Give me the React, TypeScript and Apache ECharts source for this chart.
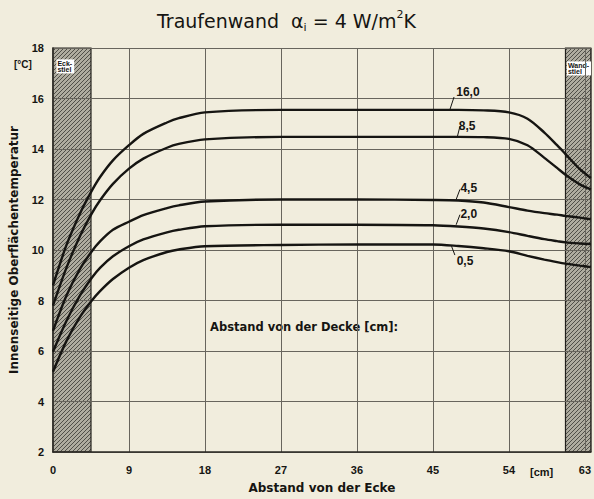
import React, { useEffect, useRef } from "react";
import * as echarts from "echarts";

// Abstand von der Ecke [cm]
const distances = [0, 1.6, 3.2, 4.6, 5.6, 7.1, 9, 10.7, 13.5, 14.9, 18, 27, 36, 45, 48, 51, 54, 56.2, 58.2, 59.7, 60.7, 62.4, 63.7];

// Innenseitige Oberflächentemperatur [°C], one list per Abstand von der Decke
const temp160 = [8.6, 10.2, 11.45, 12.35, 12.9, 13.55, 14.15, 14.6, 15.05, 15.22, 15.45, 15.55, 15.55, 15.55, 15.55, 15.53, 15.45, 15.2, 14.65, 14.15, 13.8, 13.2, 12.85];
const temp85 = [7.8, 9.3, 10.55, 11.45, 11.98, 12.62, 13.22, 13.62, 14.05, 14.2, 14.38, 14.48, 14.48, 14.48, 14.48, 14.47, 14.4, 14.15, 13.65, 13.25, 12.98, 12.6, 12.4];
const temp45 = [6.8, 8.2, 9.25, 9.95, 10.35, 10.8, 11.12, 11.38, 11.66, 11.77, 11.92, 12.0, 12.0, 11.98, 11.96, 11.88, 11.7, 11.56, 11.46, 11.4, 11.35, 11.28, 11.22];
const temp20 = [5.97, 7.2, 8.2, 8.9, 9.3, 9.75, 10.15, 10.42, 10.7, 10.8, 10.94, 11.0, 11.0, 10.98, 10.93, 10.85, 10.71, 10.56, 10.43, 10.35, 10.3, 10.26, 10.24];
const temp05 = [5.18, 6.4, 7.35, 8.0, 8.38, 8.85, 9.3, 9.6, 9.92, 10.02, 10.15, 10.2, 10.22, 10.22, 10.16, 10.07, 9.95, 9.77, 9.62, 9.52, 9.46, 9.38, 9.32];

const curveNames = ["16,0", "8,5", "4,5", "2,0", "0,5"];
const curveValues = [temp160, temp85, temp45, temp20, temp05];

// leader lines (data coords): [x1, y1, x2, y2] and label anchors [x, y]
const leaders = [
  [47.0, 15.55, 47.5, 16.06],
  [47.9, 14.5, 48.2, 14.9],
  [47.75, 12.0, 48.2, 12.4],
  [47.75, 11.0, 48.2, 11.4],
  [47.2, 10.15, 47.6, 9.8],
];
const labelAnchors = [
  [47.7, 16.24],
  [48.0, 14.92],
  [48.2, 12.46],
  [48.2, 11.42],
  [47.75, 9.58],
];

const xTickValues = [0, 9, 18, 27, 36, 45, 54, 63];
const xMax = 63.7;
const yMin = 2;
const yMax = 18;
const yStep = 2;
const eckstiel = [0, 4.5];
const wandstiel = [60.7, 63.7];

function makeHatch(): HTMLCanvasElement {
  const c = document.createElement("canvas");
  c.width = 4;
  c.height = 4;
  const g = c.getContext("2d")!;
  g.fillStyle = "rgba(110,107,98,0.5)";
  g.fillRect(0, 0, 4, 4);
  g.strokeStyle = "rgba(50,48,43,0.75)";
  g.lineWidth = 1;
  g.beginPath();
  g.moveTo(-1, 5);
  g.lineTo(5, -1);
  g.stroke();
  return c;
}

export default function App() {
  const ref = useRef<HTMLDivElement>(null);
  useEffect(() => {
    if (!ref.current) return;
    const chart = echarts.init(ref.current, undefined, { renderer: "svg" });
    const hatch = { image: makeHatch(), repeat: "repeat" };
    const ink = "#161512";
    const labelFont = "Liberation Sans";

    const curveSeries = curveNames.map((name, k) => ({
      type: "line",
      name,
      data: distances.map((d, i) => [d, curveValues[k][i]]),
      showSymbol: false,
      smooth: 0.3,
      lineStyle: { color: ink, width: 2.4 },
      z: 3,
      markLine: {
        silent: true,
        symbol: "none",
        label: { show: false },
        lineStyle: { color: ink, width: 1, type: "solid" },
        data: [[{ coord: [leaders[k][0], leaders[k][1]] }, { coord: [leaders[k][2], leaders[k][3]] }]],
      },
      markPoint: {
        silent: true,
        symbol: "circle",
        symbolSize: 1,
        itemStyle: { color: "rgba(0,0,0,0)" },
        label: {
          show: true,
          position: "right",
          distance: 0,
          formatter: name,
          color: ink,
          fontSize: 12,
          fontWeight: "bold",
          fontFamily: labelFont,
        },
        data: [{ coord: labelAnchors[k] }],
      },
    }));

    const stielLabel = {
      show: true,
      position: "insideTopLeft",
      color: ink,
      fontSize: 7,
      lineHeight: 6,
      fontWeight: "bold",
      fontFamily: labelFont,
      backgroundColor: "#ffffff",
      padding: [1, 2, 1, 1],
    };

    chart.setOption({
      animation: false,
      backgroundColor: "#f1eddd",
      grid: { left: 51, top: 48, right: 0, bottom: 45, containLabel: false },
      xAxis: {
        type: "value",
        min: 0,
        max: xMax,
        interval: 9,
        name: "Abstand von der Ecke",
        nameLocation: "middle",
        nameGap: 30,
        nameTextStyle: { color: ink, fontSize: 12, fontWeight: "bold", fontFamily: "DejaVu Sans" },
        axisLine: { show: true, lineStyle: { color: "#2a2823", width: 1.5 } },
        axisTick: { show: false },
        axisLabel: {
          color: ink,
          fontSize: 11,
          fontWeight: "bold",
          fontFamily: labelFont,
          margin: 12,
          showMaxLabel: false,
          formatter: (v: number) => (xTickValues.includes(v) ? String(v) : ""),
        },
        splitLine: { show: true, lineStyle: { color: "#68655d", width: 1 } },
      },
      yAxis: {
        type: "value",
        min: yMin,
        max: yMax,
        interval: yStep,
        name: "Innenseitige Oberflächentemperatur",
        nameLocation: "middle",
        nameRotate: 90,
        nameGap: 33,
        nameTextStyle: { color: ink, fontSize: 12, fontWeight: "bold", fontFamily: "DejaVu Sans" },
        axisLine: { show: true, lineStyle: { color: "#2a2823", width: 1.5 } },
        axisTick: { show: false },
        axisLabel: { color: ink, fontSize: 11, fontWeight: "bold", fontFamily: labelFont, margin: 9 },
        splitLine: { show: true, lineStyle: { color: "#68655d", width: 1 } },
      },
      graphic: [
        {
          type: "text",
          left: 157,
          top: 9,
          style: {
            text: "{a|Traufenwand  α}{s|i}{a| = 4 W/m}{p|2}{a|K}",
            fill: ink,
            rich: {
              a: { fontSize: 19, fontFamily: "DejaVu Sans", fill: ink, lineHeight: 24, verticalAlign: "middle" },
              s: { fontSize: 11, fontFamily: "DejaVu Sans", fill: ink, lineHeight: 24, verticalAlign: "bottom" },
              p: { fontSize: 11, fontFamily: "DejaVu Sans", fill: ink, lineHeight: 24, verticalAlign: "top" },
            },
          },
        },
        {
          type: "text",
          left: 14,
          top: 59,
          style: { text: "[°C]", fill: ink, font: "bold 10px 'Liberation Sans'" },
        },
        {
          type: "text",
          left: 210,
          top: 321,
          style: { text: "Abstand von der Decke [cm]:", fill: ink, font: "bold 11.5px 'DejaVu Sans'" },
        },
        {
          type: "text",
          left: 530,
          top: 466,
          style: { text: "[cm]", fill: ink, font: "bold 11px 'Liberation Sans'" },
        },
      ],
      series: [
        {
          type: "line",
          data: [],
          z: -10,
          silent: true,
          markArea: {
            silent: true,
            z: -10,
            itemStyle: { color: hatch, borderColor: "#22201c", borderWidth: 1.2 },
            data: [
              [
                { xAxis: eckstiel[0], label: { ...stielLabel, formatter: "Eck-\nstiel", offset: [-1, 7] } },
                { xAxis: eckstiel[1] },
              ],
              [
                { xAxis: wandstiel[0], label: { ...stielLabel, formatter: "Wand-\nstiel", offset: [-3, 9] } },
                { xAxis: wandstiel[1] },
              ],
            ],
          },
        },
        ...curveSeries,
      ],
    });
    return () => chart.dispose();
  }, []);
  return <div ref={ref} style={{ position: "fixed", left: 0, top: 0, width: 594, height: 499 }} />;
}
